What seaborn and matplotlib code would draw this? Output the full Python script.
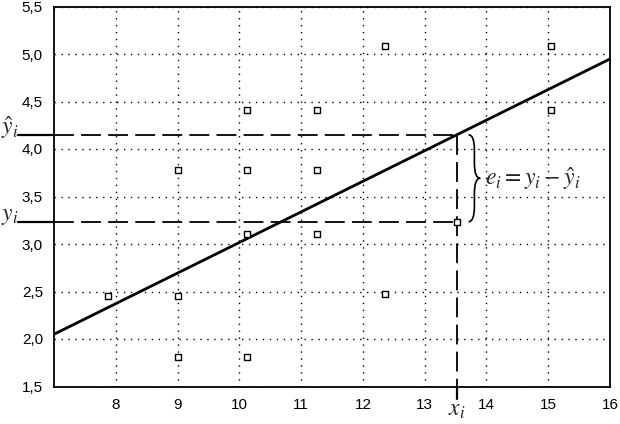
import numpy as np
import pandas as pd
import matplotlib
matplotlib.use("Agg")
import matplotlib.pyplot as plt
import matplotlib.transforms as mtrans
from matplotlib.path import Path
from matplotlib.patches import PathPatch
from matplotlib.ticker import FuncFormatter
import seaborn as sns

# ---- data ----
x_vals = [7.87, 9.01, 9.01, 9.01, 10.13, 10.13, 10.13, 10.13,
          11.26, 11.26, 11.26, 12.35, 12.35, 13.52, 15.05, 15.05]
y_vals = [2.45, 3.78, 2.45, 1.81, 4.41, 3.78, 3.11, 1.81,
          4.41, 3.78, 3.11, 5.08, 2.47, 3.235, 5.08, 4.41]
intercept_at_7 = 2.05
slope = 0.322
line_x = [7, 16]
xi = 13.52
yi = 3.235
x_ticks = [8, 9, 10, 11, 12, 13, 14, 15, 16]
y_ticks = [1.5, 2.0, 2.5, 3.0, 3.5, 4.0, 4.5, 5.0, 5.5]

sns.set_style("white")
plt.rcParams['font.family'] = ['Liberation Sans', 'DejaVu Sans']
plt.rcParams['mathtext.fontset'] = 'stix'

fig = plt.figure(figsize=(6.2, 4.24), dpi=100)
ax = fig.add_axes([54/620, 1-386.5/424, (610-54)/620, (386.5-6.5)/424])

df = pd.DataFrame({"x": x_vals, "y": y_vals})
line_y = [intercept_at_7 + slope * (v - 7) for v in line_x]
ldf = pd.DataFrame({"x": line_x, "y": line_y})
yhat = intercept_at_7 + slope * (xi - 7)

ax.set_xlim(7, 16)
ax.set_ylim(1.5, 5.5)
ax.set_xticks(x_ticks)
ax.set_yticks(y_ticks)
ax.xaxis.set_major_formatter(FuncFormatter(lambda v, p: f"{v:.0f}"))
ax.yaxis.set_major_formatter(FuncFormatter(lambda v, p: f"{v:.1f}".replace('.', ',')))
ax.grid(True, color='black', linestyle=(0, (1, 4)), linewidth=1.0)
ax.tick_params(axis='both', length=0, labelsize=11, colors='black')
ax.tick_params(axis='x', pad=8)
ax.tick_params(axis='y', pad=8)
for s in ax.spines.values():
    s.set_color('black')
    s.set_linewidth(1.3)

sns.lineplot(data=ldf, x="x", y="y", ax=ax, color='black', linewidth=2.0, zorder=3)
sns.scatterplot(data=df, x="x", y="y", ax=ax, marker='s', s=20,
                facecolor='white', edgecolor='black', linewidth=1.0, zorder=4)
ax.set_xlabel("")
ax.set_ylabel("")

dash = (0, (11, 4))
ax.plot([7, xi], [yhat, yhat], color='black', lw=1.3, linestyle=dash, zorder=2)
ax.plot([7, xi], [yi, yi], color='black', lw=1.3, linestyle=dash, zorder=2)
ax.plot([xi, xi], [yhat, 1.5], color='black', lw=1.3, linestyle=dash, zorder=2)

# outside solid stubs
tl = mtrans.blended_transform_factory(fig.transFigure, ax.transData)
for yy in (yhat, yi):
    ax.plot([18/620, 54/620], [yy, yy], transform=tl, color='black', lw=1.6, clip_on=False)
tb = mtrans.blended_transform_factory(ax.transData, fig.transFigure)
ax.plot([xi, xi], [1-386.5/424, 1-399/424], transform=tb, color='black', lw=1.6, clip_on=False)

# labels
ax.annotate(r"$\hat{y}_i$", xy=(0.002, yhat), xycoords=tl, xytext=(0, 5),
            textcoords='offset points', fontsize=17, ha='left', va='center')
ax.annotate(r"$y_i$", xy=(0.002, yi), xycoords=tl, xytext=(0, 4),
            textcoords='offset points', fontsize=17, ha='left', va='center')
ax.text(xi, 1-410/424, r"$x_i$", transform=tb, fontsize=17, ha='center', va='center')

# brace
bx = 13.71
bw = 0.19
bh = 0.16
ym = (yi + yhat) / 2
xm = bx + bw / 2
verts = [(bx, yhat), (xm, yhat), (xm, yhat - bh),
         (xm, ym + bh), (xm, ym), (bx + bw, ym),
         (xm, ym), (xm, ym - bh),
         (xm, yi + bh), (xm, yi), (bx, yi)]
codes = [Path.MOVETO, Path.CURVE3, Path.CURVE3,
         Path.LINETO, Path.CURVE3, Path.CURVE3,
         Path.CURVE3, Path.CURVE3,
         Path.LINETO, Path.CURVE3, Path.CURVE3]
ax.add_patch(PathPatch(Path(verts, codes), facecolor='none', edgecolor='black', lw=1.2, zorder=3))
ax.text(bx + bw + 0.08, ym, r"$e_i = y_i - \hat{y}_i$", fontsize=17, ha='left', va='center')

fig.savefig("out.png", dpi=100)
